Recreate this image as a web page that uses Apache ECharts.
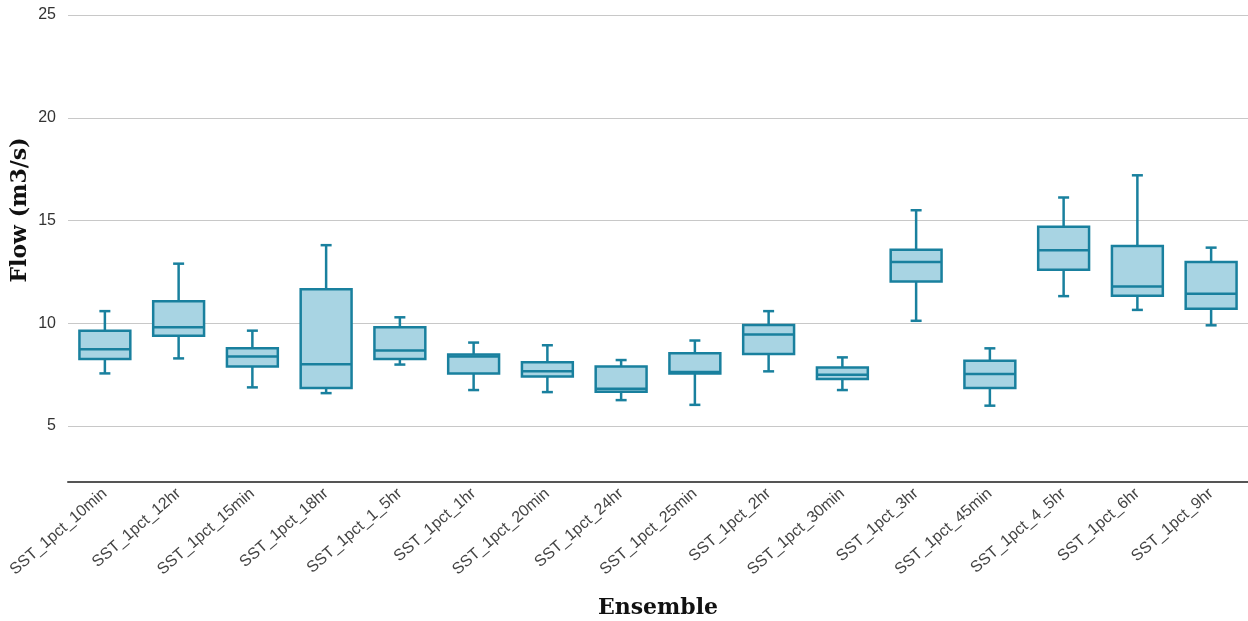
<!DOCTYPE html>
<html>
<head>
<meta charset="utf-8">
<script src="https://cdn.jsdelivr.net/npm/echarts@6/dist/echarts.min.js"></script>
<style>
html,body{margin:0;padding:0;background:#fff;}
#chart{width:1248px;height:621px;}
</style>
</head>
<body>
<div id="chart"></div>
<script>
const categories = ['SST_1pct_10min','SST_1pct_12hr','SST_1pct_15min','SST_1pct_18hr','SST_1pct_1_5hr','SST_1pct_1hr','SST_1pct_20min','SST_1pct_24hr','SST_1pct_25min','SST_1pct_2hr','SST_1pct_30min','SST_1pct_3hr','SST_1pct_45min','SST_1pct_4_5hr','SST_1pct_6hr','SST_1pct_9hr'];
const mins    = [7.56, 8.29, 6.88, 6.60, 7.99, 6.75, 6.65, 6.26, 6.03, 7.66, 6.75, 10.12, 5.99, 11.32, 10.65, 9.90];
const q1s     = [8.26, 9.39, 7.89, 6.85, 8.26, 7.56, 7.41, 6.67, 7.56, 8.50, 7.29, 12.03, 6.85, 12.60, 11.34, 10.70];
const medians = [8.73, 9.80, 8.38, 8.00, 8.67, 8.38, 7.66, 6.81, 7.63, 9.45, 7.50, 12.98, 7.53, 13.55, 11.79, 11.43];
const q3s     = [9.64, 11.07, 8.78, 11.66, 9.80, 8.48, 8.10, 7.89, 8.54, 9.92, 7.85, 13.58, 8.18, 14.70, 13.76, 12.98];
const maxs    = [10.59, 12.90, 9.64, 13.80, 10.29, 9.06, 8.93, 8.21, 9.16, 10.59, 8.34, 15.50, 8.78, 16.12, 17.20, 13.68];
const yTicks  = [5, 10, 15, 20, 25];

const STROKE = '#19809e';
const FILL = '#a8d4e3';

const data = categories.map((c, i) => [i, mins[i], q1s[i], medians[i], q3s[i], maxs[i]]);

function renderItem(params, api) {
  const x = api.value(0);
  const lo = api.coord([x, api.value(1)]);
  const q1 = api.coord([x, api.value(2)]);
  const md = api.coord([x, api.value(3)]);
  const q3 = api.coord([x, api.value(4)]);
  const hi = api.coord([x, api.value(5)]);
  const band = api.size([1, 0])[0];
  const hw = band * 0.345;
  const cw = 5.5;
  const cx = lo[0];
  const ls = {stroke: STROKE, lineWidth: 2.5};
  return {
    type: 'group',
    children: [
      {type: 'line', shape: {x1: cx, y1: hi[1], x2: cx, y2: q3[1]}, style: ls},
      {type: 'line', shape: {x1: cx, y1: q1[1], x2: cx, y2: lo[1]}, style: ls},
      {type: 'line', shape: {x1: cx - cw, y1: hi[1], x2: cx + cw, y2: hi[1]}, style: ls},
      {type: 'line', shape: {x1: cx - cw, y1: lo[1], x2: cx + cw, y2: lo[1]}, style: ls},
      {type: 'rect', shape: {x: cx - hw, y: q3[1], width: hw * 2, height: q1[1] - q3[1]}, style: {fill: FILL, stroke: STROKE, lineWidth: 2.5}},
      {type: 'line', shape: {x1: cx - hw, y1: md[1], x2: cx + hw, y2: md[1]}, style: ls}
    ]
  };
}

const chart = echarts.init(document.getElementById('chart'));
chart.setOption({
  animation: false,
  backgroundColor: '#fff',
  grid: {left: 68, right: 0, top: 15, bottom: 139.5, containLabel: false, outerBoundsMode: 'none'},
  xAxis: {
    type: 'category',
    data: categories,
    name: 'Ensemble',
    nameLocation: 'middle',
    nameGap: 116,
    nameTextStyle: {fontFamily: 'DejaVu Serif', fontWeight: 'bold', fontSize: 22, color: '#111'},
    axisLine: {lineStyle: {color: '#555', width: 2}},
    axisTick: {alignWithLabel: true, length: 5, lineStyle: {color: '#555', width: 2}},
    axisLabel: {rotate: 41, fontFamily: 'Liberation Sans', fontSize: 16, color: '#444', margin: 10, interval: 0},
    splitLine: {show: false}
  },
  yAxis: {
    type: 'value',
    min: 2.3,
    max: 25,
    axisLine: {show: false},
    axisTick: {show: false, customValues: yTicks},
    axisLabel: {customValues: yTicks, fontFamily: 'Liberation Sans', fontSize: 16, color: '#333', margin: 12},
    splitLine: {lineStyle: {color: '#c8c8c8', width: 1}}
  },
  graphic: [{
    type: 'text',
    x: 20, y: 210,
    rotation: Math.PI / 2,
    style: {text: 'Flow (m3/s)', font: 'bold 22px "DejaVu Serif"', fill: '#111', textAlign: 'center', textVerticalAlign: 'middle'}
  }],
  series: [{
    type: 'custom',
    renderItem: renderItem,
    encode: {x: 0, y: [1, 2, 3, 4, 5]},
    data: data
  }]
});
</script>
</body>
</html>
